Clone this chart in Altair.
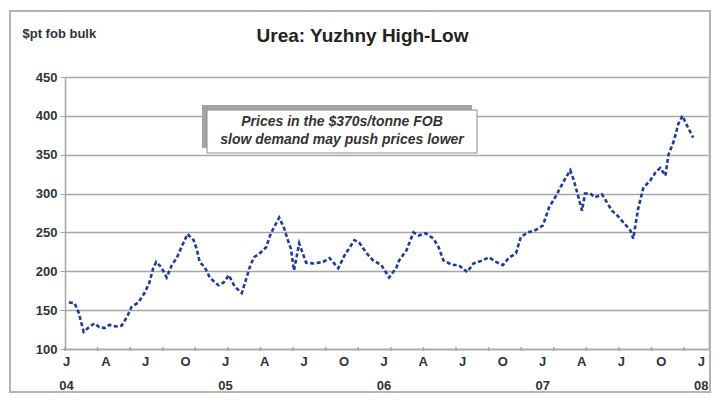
import altair as alt
import pandas as pd

# ---- data ----
dates = [
    "2004-01-10", "2004-01-23", "2004-02-02", "2004-02-13", "2004-02-25", "2004-03-09",
    "2004-03-20", "2004-04-01", "2004-04-12", "2004-04-28", "2004-05-10", "2004-05-16",
    "2004-05-25", "2004-06-02", "2004-06-18", "2004-07-02", "2004-07-13", "2004-07-22",
    "2004-07-29", "2004-08-10", "2004-08-22", "2004-09-03", "2004-09-14", "2004-09-25",
    "2004-10-09", "2004-10-23", "2004-10-30", "2004-11-06", "2004-11-18", "2004-11-29",
    "2004-12-19", "2005-01-01", "2005-01-12", "2005-01-26", "2005-02-11", "2005-03-01",
    "2005-03-11", "2005-03-24", "2005-04-08", "2005-04-19", "2005-05-08", "2005-05-19",
    "2005-05-28", "2005-06-04", "2005-06-11", "2005-06-23", "2005-07-09", "2005-07-27",
    "2005-08-17", "2005-09-01", "2005-09-21", "2005-10-05", "2005-10-28", "2005-11-08",
    "2005-11-24", "2005-12-10", "2005-12-29", "2006-01-16", "2006-02-02", "2006-02-08",
    "2006-02-25", "2006-03-13", "2006-03-25", "2006-04-10", "2006-04-28", "2006-05-10",
    "2006-05-21", "2006-06-11", "2006-06-25", "2006-07-15", "2006-07-29", "2006-08-19",
    "2006-09-03", "2006-09-19", "2006-10-05", "2006-10-18", "2006-11-04", "2006-11-15",
    "2006-12-01", "2006-12-19", "2007-01-05", "2007-01-19", "2007-02-04", "2007-02-23",
    "2007-03-09", "2007-03-16", "2007-03-27", "2007-04-05", "2007-04-12", "2007-04-24",
    "2007-05-05", "2007-05-21", "2007-06-02", "2007-06-13", "2007-06-25", "2007-07-09",
    "2007-07-25", "2007-08-01", "2007-08-12", "2007-08-24", "2007-09-09", "2007-09-21",
    "2007-10-02", "2007-10-14", "2007-10-21", "2007-11-02", "2007-11-13", "2007-11-22",
    "2007-12-03", "2007-12-17",
]
prices = [
    160, 159, 146, 122, 128, 133,
    128, 127, 131, 129, 130, 135,
    144, 154, 160, 172, 185, 204,
    212, 205, 192, 208, 217, 231,
    248, 240, 229, 212, 205, 192,
    182, 186, 195, 180, 172, 205,
    218, 223, 231, 249, 269, 256,
    240, 229, 201, 236, 211, 210,
    212, 217, 204, 220, 240, 237,
    224, 214, 208, 192, 205, 214,
    227, 250, 246, 249, 242, 231,
    214, 208, 208, 199, 210, 214,
    218, 212, 208, 217, 223, 244,
    250, 253, 259, 282, 297, 317,
    330, 319, 297, 278, 300, 300,
    295, 299, 288, 278, 272, 263,
    253, 242, 280, 307, 317, 327,
    333, 323, 350, 367, 390, 400,
    387, 372,
]

quarter_labels = [f"{y}-{m:02d}-01" for y in range(2004, 2009) for m in (1, 4, 7, 10)][:17]
minor_ticks = [d.strftime("%Y-%m-%d") for d in pd.date_range("2004-01-01", "2008-01-20", freq="75D")]
y_ticks = [100, 150, 200, 250, 300, 350, 400, 450]

note_lines = ["Prices in the $370s/tonne FOB", "slow demand may push prices lower"]

W, H = 643, 272
FONT = "Liberation Sans"
GRID = "#a6a6a6"

df = pd.DataFrame({"date": dates, "price": prices})
ticks_df = pd.DataFrame({"date": minor_ticks})

x_scale = alt.Scale(type="utc", domain=["2004-01-01", "2008-01-20"])

x_axis = alt.Axis(
    values=[alt.DateTime(year=int(d[:4]), month=int(d[5:7]), date=1, utc=True) for d in quarter_labels],
    labelExpr="[['J','A','J','O'][floor(utcmonth(datum.value)/3)], utcmonth(datum.value)==0 ? utcFormat(datum.value,'%y') : '']",
    ticks=False,
    grid=False,
    labelPadding=6,
    labelBaseline="top",
    labelLineHeight=24,
    labelOffset=1,
    labelFont=FONT,
    labelFontSize=13,
    labelFontWeight="bold",
    labelColor="#333333",
    labelFlush=False,
    domainColor=GRID,
    domainWidth=1.5,
    title=None,
)

y_axis = alt.Axis(
    values=y_ticks,
    grid=True,
    gridColor=GRID,
    gridWidth=1.5,
    domainColor=GRID,
    domainWidth=1.5,
    tickColor=GRID,
    tickSize=5,
    labelPadding=3,
    labelFont=FONT,
    labelFontSize=13,
    labelFontWeight="bold",
    labelColor="#333333",
    title="$pt fob bulk",
    titleAngle=0,
    titleX=-43,
    titleY=-44,
    titleAlign="left",
    titleBaseline="middle",
    titleFont=FONT,
    titleFontSize=13,
    titleFontWeight="bold",
    titleColor="#333333",
)

one = alt.Data(values=[{}])

frame = alt.Chart(one).mark_rect(fill="transparent", stroke="#b4b4b4", strokeWidth=2).encode(
    x=alt.value(-55), x2=alt.value(645), y=alt.value(-66), y2=alt.value(315)
)

line = alt.Chart(df).mark_line(
    color="#1f3c9c", strokeWidth=2.6, strokeDash=[4, 2.5]
).encode(
    x=alt.X("date:T", scale=x_scale, axis=x_axis),
    y=alt.Y("price:Q", scale=alt.Scale(domain=[100, 450]), axis=y_axis),
)

minor = alt.Chart(ticks_df).mark_rule(color=GRID, strokeWidth=1.5).encode(
    x=alt.X("date:T", scale=x_scale),
    y=alt.value(H - 2),
    y2=alt.value(H + 2),
)

shadow = alt.Chart(one).mark_rect(fill="#a3a3a3").encode(
    x=alt.value(137), x2=alt.value(407), y=alt.value(28), y2=alt.value(71)
)
box = alt.Chart(one).mark_rect(fill="white", stroke="#8c8c8c", strokeWidth=1).encode(
    x=alt.value(142), x2=alt.value(412), y=alt.value(33), y2=alt.value(76)
)
note = alt.Chart(one).mark_text(
    text=note_lines, lineHeight=18, font=FONT, fontSize=14, fontStyle="italic",
    fontWeight="bold", color="#333333", align="center", baseline="middle",
).encode(x=alt.value(277), y=alt.value(45))

chart = alt.layer(frame, line, minor, shadow, box, note).properties(
    width=W,
    height=H,
    title=alt.TitleParams(
        text="Urea: Yuzhny High-Low", anchor="middle", dx=-24, offset=30, dy=66,
        font=FONT, fontSize=19, fontWeight="bold", color="#222222",
    ),
    autosize=alt.AutoSizeParams(type="none"),
    padding={"left": 57, "top": 69, "right": 4, "bottom": 46},
).configure_view(stroke=GRID, strokeWidth=1.5).configure(background="white")

chart.save("out.html", embed_options={"renderer": "svg", "actions": False})
